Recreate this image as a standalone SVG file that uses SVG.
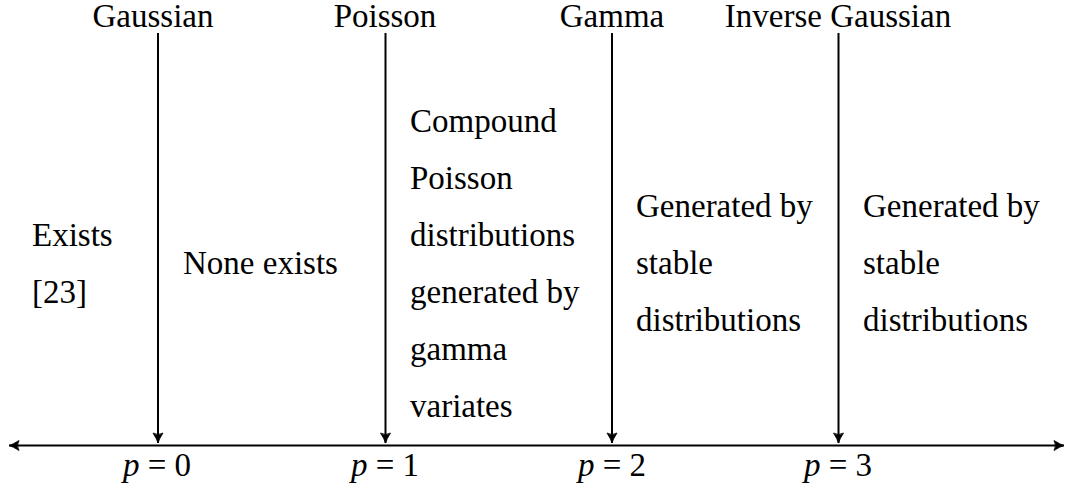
<svg xmlns="http://www.w3.org/2000/svg" width="1073" height="491" viewBox="0 0 1073 491">
<style>
text { font-family: 'Liberation Serif', 'Times New Roman', serif; font-size: 33px; fill: #000; }
.top { text-anchor: middle; }
.p { text-anchor: middle; }
.it { font-style: italic; }
.ln { stroke: #000; stroke-width: 2; fill: none; }
</style>
<defs>
<marker id="arr" viewBox="-12 -6 14 12" markerWidth="14" markerHeight="12" refX="0" refY="0" orient="auto-start-reverse" markerUnits="userSpaceOnUse">
<path d="M -10,-5 Q -4,-1.2 0,0 Q -4,1.2 -10,5 Q -7,0 -10,-5 Z" fill="#000" stroke="#000" stroke-width="0.8" stroke-linejoin="round"/>
</marker>
</defs>
<rect width="1073" height="491" fill="#fff"/>
<g id="connectors">
<line class="ln" x1="9" y1="445.5" x2="1064" y2="445.5" marker-start="url(#arr)" marker-end="url(#arr)"/>
<line class="ln" x1="158" y1="33" x2="158" y2="443" marker-end="url(#arr)"/>
<line class="ln" x1="385.5" y1="33" x2="385.5" y2="443" marker-end="url(#arr)"/>
<line class="ln" x1="612" y1="33" x2="612" y2="443" marker-end="url(#arr)"/>
<line class="ln" x1="838.5" y1="33" x2="838.5" y2="443" marker-end="url(#arr)"/>
</g>
<g id="node-gaussian"><text class="top" x="153" y="27">Gaussian</text><text class="p" x="157" y="476"><tspan class="it">p</tspan> = 0</text></g>
<g id="node-poisson"><text class="top" x="385" y="27">Poisson</text><text class="p" x="385" y="476"><tspan class="it">p</tspan> = 1</text></g>
<g id="node-gamma"><text class="top" x="612" y="27">Gamma</text><text class="p" x="612" y="476"><tspan class="it">p</tspan> = 2</text></g>
<g id="node-invgauss"><text class="top" x="838" y="27">Inverse Gaussian</text><text class="p" x="838" y="476"><tspan class="it">p</tspan> = 3</text></g>
<g id="region-0"><text x="32" y="245.5">Exists</text><text x="32" y="302.5">[23]</text></g>
<g id="region-1"><text x="183" y="274">None exists</text></g>
<g id="region-2">
<text x="410" y="132">Compound</text>
<text x="410" y="189">Poisson</text>
<text x="410" y="246">distributions</text>
<text x="410" y="303">generated by</text>
<text x="410" y="360">gamma</text>
<text x="410" y="417">variates</text>
</g>
<g id="region-3"><text x="636" y="217">Generated by</text><text x="636" y="274">stable</text><text x="636" y="331">distributions</text></g>
<g id="region-4"><text x="863" y="217">Generated by</text><text x="863" y="274">stable</text><text x="863" y="331">distributions</text></g>
</svg>
